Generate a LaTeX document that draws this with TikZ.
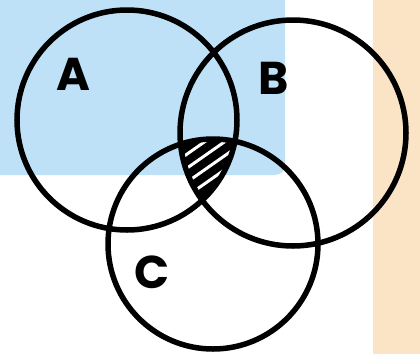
\documentclass[tikz,border=0pt]{standalone}
\usepackage{fontspec}
\setmainfont{Poppins}
\definecolor{skyblue}{HTML}{BEE1F7}
\definecolor{peach}{HTML}{FBE3C6}
\begin{document}
\begin{tikzpicture}[x=1pt,y=-1pt,
  setcircle/.style={circle,draw=black,line width=5.5pt,inner sep=0pt},
  setlabel/.style={font=\fontsize{46}{46}\selectfont\bfseries,inner sep=0pt,anchor=center}]
\useasboundingbox (0,0) rectangle (420,354);
\fill[white] (0,0) rectangle (420,354);
\fill[skyblue,rounded corners=10pt] (-20,-20) rectangle (285,175);
\fill[peach] (373,0) rectangle (420,354);
% hatched triple intersection
\begin{scope}
  \clip (127,120) circle[radius=110];
  \clip (293,133) circle[radius=113];
  \clip (213,244) circle[radius=105];
  \fill[black] (150,120) rectangle (260,210);
  \foreach \k in {0,...,9}{
    \draw[white,line width=3pt] (150,{152+\k*14}) -- ++(120,-84);
  }
\end{scope}
\node[setcircle,minimum size=220pt] (A) at (127,120) {};
\node[setcircle,minimum size=226pt] (B) at (293,133) {};
\node[setcircle,minimum size=210pt] (C) at (213,244) {};
\node[setlabel] (la) at (73,74) {A};
\node[setlabel] (lb) at (274,78) {B};
\node[setlabel] (lc) at (152,272) {C};
\end{tikzpicture}
\end{document}
